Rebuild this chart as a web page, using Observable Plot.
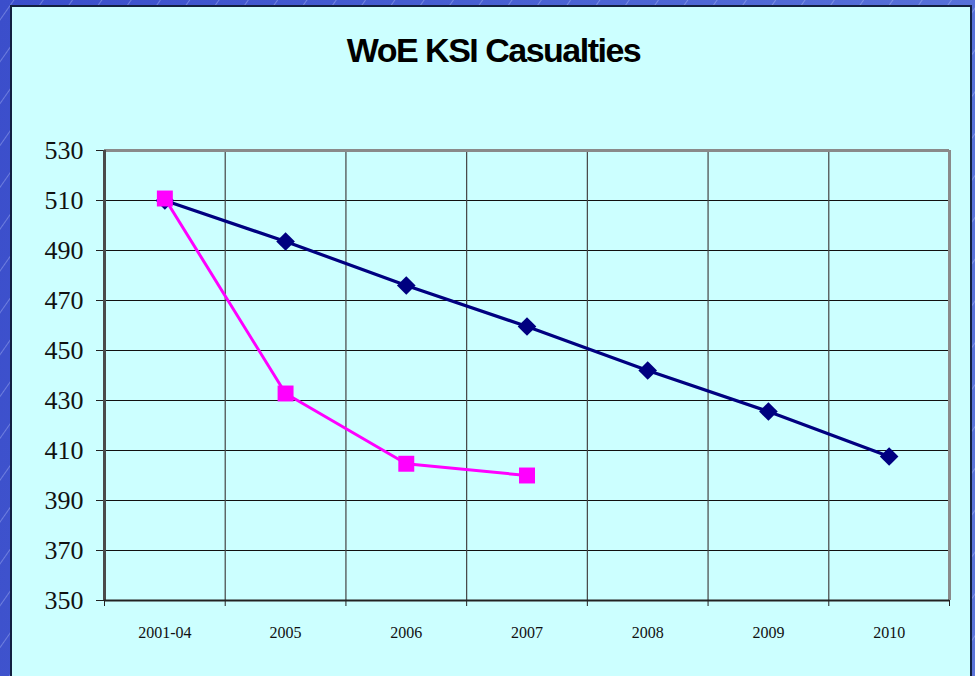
<!DOCTYPE html>
<html>
<head>
<meta charset="utf-8">
<script src="https://cdn.jsdelivr.net/npm/d3@7"></script>
<script src="https://cdn.jsdelivr.net/npm/@observablehq/plot@0.6"></script>
<style>
  html, body { margin: 0; padding: 0; width: 975px; height: 676px; overflow: hidden; }
  body {
    background:
      repeating-linear-gradient(-55deg, rgba(255,255,255,0) 0px, rgba(255,255,255,0) 22px, rgba(200,210,255,0.35) 23px, rgba(255,255,255,0) 24px),
      linear-gradient(100deg, #3b4ecb 0%, #4a62d3 50%, #5b74da 100%);
    position: relative;
  }
  #panel {
    position: absolute; left: 10px; top: 5px; width: 962px; height: 690px;
    background: #ccffff; border: 2px solid #122040; box-sizing: border-box;
  }
  #title {
    position: absolute; left: 0; top: 0; width: 975px; height: 140px;
    font-family: "Liberation Sans", Arial, sans-serif; font-weight: bold;
    font-size: 34px; letter-spacing: -1.5px; color: #000;
    text-align: center; line-height: 100px; padding-left: 12px; box-sizing: border-box;
  }
  #chart { position: absolute; left: 0; top: 140px; }
  #chart svg { background: transparent; overflow: visible; }
</style>
</head>
<body>
<div id="panel"></div>
<div id="title">WoE KSI Casualties</div>
<div id="chart"></div>
<script>
const categories = ["2001-04", "2005", "2006", "2007", "2008", "2009", "2010"];
const targetValues = [510, 493.6, 476, 459.6, 442, 425.6, 407.6];
const actualValues = [510.8, 432.8, 404.7, 400];
const yTicks = [350, 370, 390, 410, 430, 450, 470, 490, 510, 530];

const target = targetValues.map((v, i) => ({i, v}));
const actual = actualValues.map((v, i) => ({i, v}));
const catIdx = categories.map((c, i) => i);
const bounds = d3.range(-0.5, categories.length, 1);      // -0.5 .. 6.5
const innerBounds = bounds.slice(1, -1);
const innerY = yTicks.slice(1, -1);

const plot = Plot.plot({
  width: 975,
  height: 536,
  marginTop: 10,
  marginBottom: 76,
  marginLeft: 104,
  marginRight: 26,
  style: {background: "transparent", overflow: "visible"},
  x: {type: "linear", domain: [-0.5, categories.length - 0.5]},
  y: {domain: [350, 530]},
  marks: [
    Plot.ruleY(innerY, {stroke: "#111", strokeWidth: 1}),
    Plot.ruleX(innerBounds, {stroke: "#444", strokeWidth: 1.2}),
    Plot.ruleY([530], {stroke: "#8a8a8a", strokeWidth: 3}),
    Plot.ruleX([categories.length - 0.5], {stroke: "#8a8a8a", strokeWidth: 3}),
    Plot.axisY({
      ticks: yTicks, tickSize: 8, tickPadding: 13, label: null,
      fontSize: 26, fontFamily: "Liberation Serif, Times New Roman, serif",
      stroke: "#222", color: "#111"
    }),
    Plot.axisX({
      ticks: bounds, tickSize: 6, tickFormat: () => "", label: null, stroke: "#222"
    }),
    Plot.axisX({
      ticks: catIdx, tickSize: 0, tickPadding: 26, label: null,
      tickFormat: i => categories[i],
      fontSize: 16, fontFamily: "Liberation Serif, Times New Roman, serif", color: "#111"
    }),
    Plot.ruleX([-0.5], {stroke: "#4a4a4a", strokeWidth: 3}),
    Plot.ruleY([350], {stroke: "#222", strokeWidth: 2}),
    Plot.line(target, {x: "i", y: "v", stroke: "#000080", strokeWidth: 3.2}),
    Plot.dot(target, {x: "i", y: "v", symbol: "diamond2", r: 8.4, fill: "#000080", stroke: "none"}),
    Plot.line(actual, {x: "i", y: "v", stroke: "#ff00ff", strokeWidth: 3}),
    Plot.dot(actual, {x: "i", y: "v", symbol: "square", r: 9, fill: "#ff00ff", stroke: "none"})
  ]
});
document.getElementById("chart").appendChild(plot);
</script>
</body>
</html>
